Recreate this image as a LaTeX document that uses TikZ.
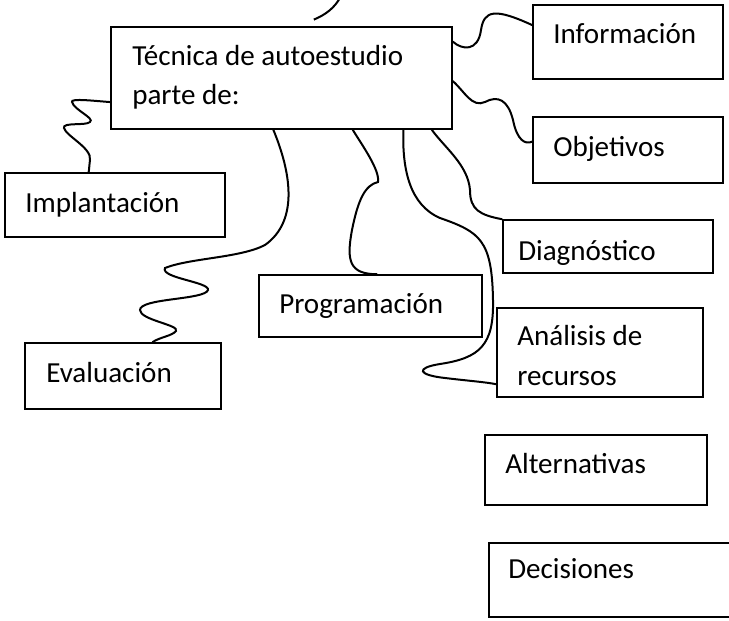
\documentclass[tikz,border=0pt]{standalone}
\usepackage{fontspec}
\setmainfont{Carlito}
\usepackage{tikz}
\usetikzlibrary{fit}

\begin{document}
\begin{tikzpicture}[x=0.75pt, y=-0.75pt,
  box/.style={draw, line width=1.1pt, inner sep=0pt},
  txt/.style={anchor=base west, inner sep=0pt, font=\fontsize{21.8}{30}\selectfont},
  wire/.style={line width=1.5pt}]
\useasboundingbox (0,0) rectangle (729,621);

% boxes
\node[box, fit={(111,27) (452,129)}] (main) {};
\node[box, fit={(533,5) (723,79)}] (info) {};
\node[box, fit={(533,117) (723,183)}] (obj) {};
\node[box, fit={(5,173) (225,237)}] (impl) {};
\node[box, fit={(503,220) (713,273)}] (diag) {};
\node[box, fit={(259,275) (482,337)}] (prog) {};
\node[box, fit={(497,308) (703,397)}] (ana) {};
\node[box, fit={(25,343) (221,409)}] (eval) {};
\node[box, fit={(485,435) (707,505)}] (alt) {};
\node[box, fit={(489,543) (732,617)}] (dec) {};

% texts
\node[txt] (maintext) at (132,65) {Técnica de autoestudio};
\node[txt] (maintext2) at (132,104) {parte de:};
\node[txt] (infotext) at (553,43) {Información};
\node[txt] (objtext) at (553,156) {Objetivos};
\node[txt] (impltext) at (25,212) {Implantación};
\node[txt] (diagtext) at (518,260) {Diagnóstico};
\node[txt] (progtext) at (279,313) {Programación};
\node[txt] (anatext) at (517,345) {Análisis de};
\node[txt] (anatext2) at (517,385) {recursos};
\node[txt] (evaltext) at (46,382) {Evaluación};
\node[txt] (alttext) at (505,473) {Alternativas};
\node[txt] (dectext) at (508,578) {Decisiones};

% wavy links
\coordinate (topend) at (341,-4);
\draw[wire] ([yshift=5pt]main.58) .. controls (325,15) and (335,8) .. (topend);
\draw[wire] (main.12) .. controls (462,50) and (478,52) .. (481,30)
  .. controls (484,10) and (495,8) .. (info.170);
\draw[wire] (main.-1) .. controls (465,92) and (472,108) .. (485,102)
  .. controls (498,95) and (508,100) .. (513,120)
  .. controls (517,140) and (525,145) .. (obj.175);
\draw[wire] (main.-19) .. controls (445,148) and (468,165) .. (470,190)
  .. controls (470,210) and (480,215) .. (diag.north west);
\draw[wire] (main.-23.5) .. controls (402,170) and (410,205) .. (440,218)
  .. controls (480,232) and (492,240) .. (493,300)
  .. controls (494,345) and (480,358) .. (440,364)
  .. controls (415,368) and (418,375) .. (445,378)
  .. controls (470,381) and (485,382) .. (ana.197);
\draw[wire] (main.-36) .. controls (362,145) and (380,170) .. (378,182)
  .. controls (365,185) and (358,200) .. (352,230)
  .. controls (346,262) and (350,274) .. (prog.78);
\draw[wire] (main.-99.5) .. controls (290,170) and (300,220) .. (265,245)
  .. controls (240,258) and (190,258) .. (165,268)
  .. controls (160,278) and (210,282) .. (208,290)
  .. controls (205,300) and (140,298) .. (140,310)
  .. controls (140,320) and (180,325) .. (176,331)
  .. controls (172,336) and (160,337) .. (eval.49);
\draw[wire] (main.188) .. controls (95,101) and (70,98) .. (72,102)
  .. controls (74,110) and (95,118) .. (90,122)
  .. controls (86,126) and (62,122) .. (64,128)
  .. controls (66,136) and (92,148) .. (90,160)
  .. controls (89,168) and (89,172) .. (impl.129);
\end{tikzpicture}
\end{document}
